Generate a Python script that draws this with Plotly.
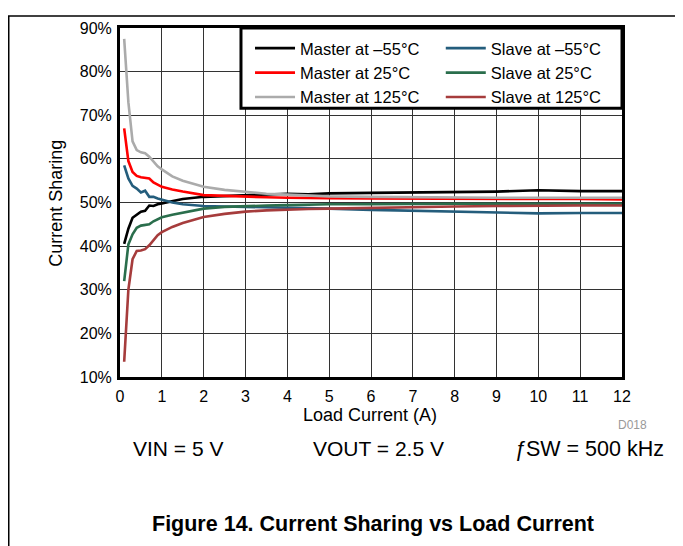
import plotly.graph_objects as go

load_current = [0.1, 0.2, 0.3, 0.4, 0.5, 0.6, 0.7, 0.8, 0.9, 1.0, 1.25, 1.5, 2, 2.5, 3, 3.5, 4, 4.5, 5, 6, 7, 8, 9, 10, 11, 12]

master_m55 = [40.5, 44.0, 46.5, 47.3, 47.9, 48.1, 49.3, 49.2, 49.6, 49.8, 50.3, 50.8, 51.3, 51.5, 51.6, 51.8, 52.0, 51.9, 52.1, 52.2, 52.3, 52.5, 52.5, 52.8, 52.6, 52.6]
master_25 = [67.0, 59.5, 57.0, 56.1, 55.8, 55.7, 55.5, 54.6, 54.0, 53.6, 53.0, 52.5, 51.7, 51.5, 51.4, 51.2, 51.1, 51.0, 51.0, 50.9, 50.9, 50.8, 50.8, 50.8, 50.8, 50.7]
master_125 = [87.5, 73.0, 64.0, 62.0, 61.5, 61.3, 60.5, 59.3, 58.3, 57.6, 56.0, 55.0, 53.6, 52.9, 52.4, 52.0, 51.8, 51.6, 51.4, 51.3, 51.2, 51.2, 51.1, 51.1, 51.1, 51.1]
slave_m55 = [58.5, 55.5, 53.8, 53.2, 52.3, 52.7, 51.3, 51.3, 50.9, 50.6, 50.0, 49.6, 49.2, 49.1, 49.0, 48.9, 48.8, 48.8, 48.6, 48.3, 48.1, 47.9, 47.8, 47.5, 47.6, 47.6]
slave_25 = [32.0, 40.4, 42.7, 44.2, 44.7, 44.8, 45.0, 45.7, 46.1, 46.6, 47.2, 47.7, 48.6, 49.0, 49.2, 49.3, 49.4, 49.5, 49.6, 49.6, 49.7, 49.7, 49.7, 49.7, 49.7, 49.7]
slave_125 = [13.5, 30.0, 37.0, 38.9, 39.0, 39.3, 40.2, 41.3, 42.5, 43.2, 44.4, 45.3, 46.7, 47.4, 47.9, 48.2, 48.4, 48.5, 48.6, 48.8, 49.0, 49.1, 49.2, 49.3, 49.3, 49.3]

x_ticks = list(range(0, 13))
y_ticks = list(range(10, 91, 10))

FONT = "Liberation Sans, Arial, sans-serif"

series = [
    ("Master at –55°C", master_m55, "#000000", "legend"),
    ("Master at 25°C", master_25, "#ff0000", "legend"),
    ("Master at 125°C", master_125, "#ababab", "legend"),
    ("Slave at –55°C", slave_m55, "#245d7c", "legend2"),
    ("Slave at 25°C", slave_25, "#2a6e4c", "legend2"),
    ("Slave at 125°C", slave_125, "#a63c3c", "legend2"),
]

fig = go.Figure()
for name, vals, color, leg in series:
    fig.add_trace(go.Scatter(x=load_current, y=vals, mode="lines", name=name,
                             line=dict(color=color, width=2.6), legend=leg))

fig.update_layout(
    width=675, height=538,
    margin=dict(l=112, r=61, t=13, b=169),
    paper_bgcolor="white", plot_bgcolor="white",
    font=dict(family=FONT, size=16, color="#000"),
    legend=dict(x=0.259, y=0.9916, xanchor="left", yanchor="top", itemwidth=40,
                bgcolor="rgba(0,0,0,0)", font=dict(size=16.5), borderwidth=0),
    legend2=dict(x=0.639, y=0.9916, xanchor="left", yanchor="top", itemwidth=40,
                 bgcolor="rgba(0,0,0,0)", font=dict(size=16.5), borderwidth=0),
)

fig.update_xaxes(range=[0, 12], tickvals=x_ticks, ticktext=[str(v) for v in x_ticks],
                 showgrid=True, gridcolor="#333333", gridwidth=1.2,
                 showline=True, linecolor="black", linewidth=3, mirror=True,
                 ticks="", ticklabelstandoff=3, zeroline=False,
                 tickfont=dict(size=16))
fig.update_yaxes(range=[10, 90], tickvals=y_ticks, ticktext=[f"{v}%" for v in y_ticks],
                 showgrid=True, gridcolor="#333333", gridwidth=1.2,
                 showline=True, linecolor="black", linewidth=3, mirror=True,
                 ticks="", ticklabelstandoff=2, zeroline=False,
                 tickfont=dict(size=16))

shapes = [
    # legend box
    dict(type="rect", xref="paper", yref="paper", x0=0.241, x1=1.0, y0=0.770, y1=1.0,
         line=dict(color="black", width=3), fillcolor="white", layer="above"),
    # page frame lines
    dict(type="line", xref="paper", yref="paper", x0=-0.24, x1=1.1135, y0=1.0344, y1=1.0344,
         line=dict(color="black", width=1.5)),
    dict(type="line", xref="paper", yref="paper", x0=-0.2216, x1=-0.2216, y0=1.0344, y1=-0.5,
         line=dict(color="black", width=1.5)),
    dict(type="line", xref="paper", yref="paper", x0=1.1135, x1=1.1135, y0=1.0344, y1=-0.5,
         line=dict(color="black", width=1.5)),
]
fig.update_layout(shapes=shapes)

ann = [
    dict(text="Load Current (A)", x=0.498, y=-0.11, font=dict(size=18)),
    dict(text="Current Sharing", x=-0.129, y=0.497, textangle=-90, font=dict(size=18)),
    dict(text="D018", x=1.02, y=-0.138, font=dict(size=12, color="#999999")),
    dict(text="VIN = 5 V", x=0.1155, y=-0.205, font=dict(size=21)),
    dict(text="VOUT = 2.5 V", x=0.514, y=-0.205, font=dict(size=21)),
    dict(text="<i>ƒ</i>SW = 500 kHz", x=0.935, y=-0.205, font=dict(size=21.5)),
    dict(text="<b>Figure 14. Current Sharing vs Load Current</b>", x=0.504, y=-0.421, font=dict(size=21.5)),
]
for a in ann:
    a.update(xref="paper", yref="paper", showarrow=False, xanchor="center", yanchor="middle")
fig.update_layout(annotations=ann)

fig.write_html("out.html")
